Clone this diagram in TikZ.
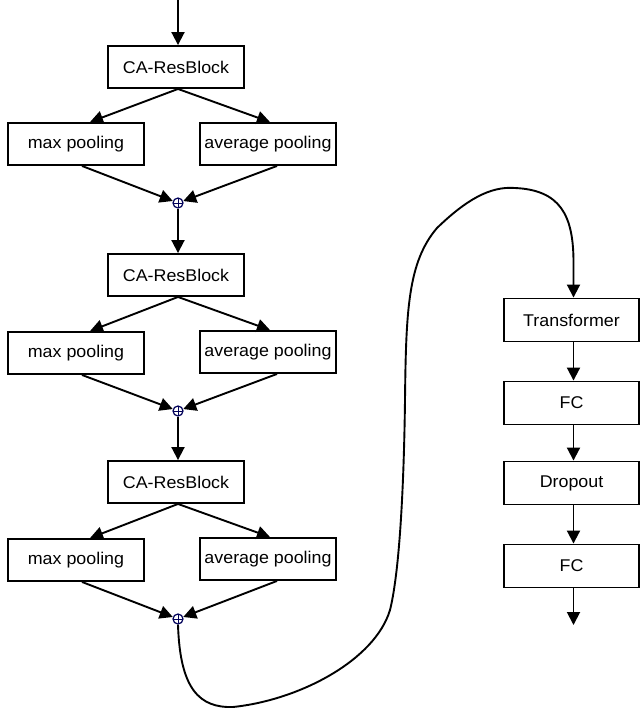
\documentclass[tikz,border=0pt]{standalone}
\usepackage{fontspec}
\setmainfont{Liberation Sans}[FakeStretch=1.05]
\usetikzlibrary{arrows.meta}
\begin{document}
\begin{tikzpicture}[x=1pt,y=-1pt,
  font=\fontsize{17}{19}\selectfont,
  blk/.style={draw, line width=1.9pt, minimum width=136pt, minimum height=42pt, inner sep=0pt},
  rblk/.style={blk, minimum width=135pt, minimum height=43pt},
  conn/.style={line width=1.9pt, -{Triangle[length=13pt,width=13pt]}},
  addnode/.style={circle, draw=black!65!blue, line width=1.2pt, minimum size=10pt, inner sep=0pt,
    path picture={\draw[line width=0.9pt] (path picture bounding box.north) -- (path picture bounding box.south)
      (path picture bounding box.west) -- (path picture bounding box.east);}}]
\useasboundingbox (0,0) rectangle (640,710);

\coordinate (start) at (178,0);
\node[blk] (ca1) at (176,67) {CA-ResBlock};
\node[blk] (mp1) at (76,144) {max pooling};
\node[blk] (ap1) at (268,144) {average pooling};
\node[addnode] (c1) at (178,203) {};

\node[blk] (ca2) at (176,275) {CA-ResBlock};
\node[blk] (mp2) at (76,353) {max pooling};
\node[blk] (ap2) at (268,352) {average pooling};
\node[addnode] (c2) at (178,411) {};

\node[blk] (ca3) at (176,482) {CA-ResBlock};
\node[blk] (mp3) at (76,560) {max pooling};
\node[blk] (ap3) at (268,559) {average pooling};
\node[addnode] (c3) at (178,619) {};

\node[rblk] (tr) at (571.5,320) {Transformer};
\node[rblk] (fc1) at (571.5,403) {FC};
\node[rblk] (dr) at (571.5,483) {Dropout};
\node[rblk] (fc2) at (571.5,566) {FC};
\coordinate (out) at (573.5,625);

\draw[conn] (start) -- ([xshift=2pt]ca1.north);
\foreach \i/\n in {1/2,2/3} {
  \draw[conn] (c\i) -- ([xshift=2pt]ca\n.north);
}
\foreach \i in {1,2,3} {
  \draw[conn] ([xshift=2pt]ca\i.south) -- ([xshift=14pt]mp\i.north);
  \draw[conn] ([xshift=2pt]ca\i.south) -- ([xshift=2pt]ap\i.north);
  \draw[conn] ([xshift=6pt]mp\i.south) -- (c\i);
  \draw[conn] ([xshift=9pt]ap\i.south) -- (c\i);
}

\draw[conn] (c3.south) .. controls (180,690) and (200,708) .. (233,707)
  .. controls (300,700) and (375,660) .. (390,610)
  .. controls (400,570) and (404,480) .. (405,400)
  .. controls (406,310) and (408,262) .. (437,228)
  .. controls (466,200) and (490,186) .. (515,188)
  .. controls (560,190) and (573,215) .. (573.5,260)
  -- ([xshift=2pt]tr.north);

\draw[conn] ([xshift=2pt]tr.south) -- ([xshift=2pt]fc1.north);
\draw[conn] ([xshift=2pt]fc1.south) -- ([xshift=2pt]dr.north);
\draw[conn] ([xshift=2pt]dr.south) -- ([xshift=2pt]fc2.north);
\draw[conn] ([xshift=2pt]fc2.south) -- (out);
\end{tikzpicture}
\end{document}
